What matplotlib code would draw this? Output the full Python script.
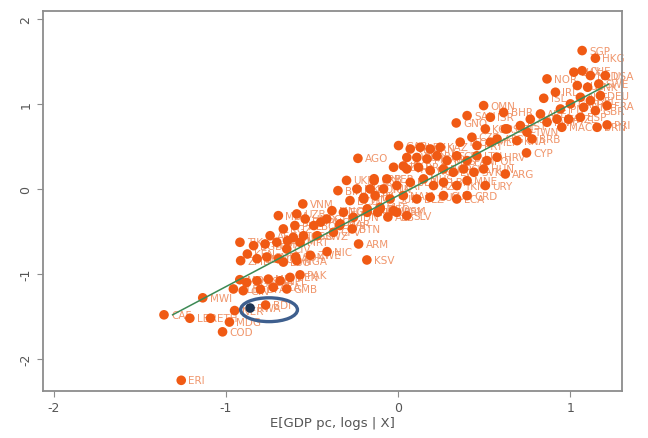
import matplotlib.pyplot as plt
from matplotlib.patches import Ellipse

plt.rcParams['axes.unicode_minus'] = False

countries = [
    'CAF', 'LBR', 'ETH', 'MDG', 'COD', 'ERI', 'MWI', 'NER', 'RWA', 'BDI',
    'MOZ', 'TGO', 'SLE', 'GIN', 'UGA', 'BFA', 'MLI', 'TZA', 'NPL', 'GMB',
    'BEN', 'PAK', 'ZMB', 'KEN', 'TJK', 'BGD', 'SEN', 'KHM', 'CMR', 'GHA',
    'LAO', 'KGZ', 'CIV', 'MDA', 'IND', 'NGA', 'UZB', 'SDN', 'ZWE', 'NIC',
    'YEM', 'MRT', 'LSO', 'VNM', 'PHL', 'HND', 'BOL', 'GTM', 'MNG', 'EGY',
    'MAR', 'IDN', 'LKA', 'GEO', 'PRY', 'SWZ', 'CGO', 'AFG', 'ARM', 'KSV',
    'PNG', 'SYR', 'BTN', 'JOR', 'ALB', 'CPV', 'AGO', 'GAB', 'BWA', 'IRQ',
    'UKR', 'BIH', 'MKD', 'SRB', 'ECU', 'CHN', 'OMN', 'SAU', 'GNQ', 'ISR',
    'KOR', 'BHR', 'SVN', 'CZE', 'TTO', 'PRT', 'MLT', 'VEN', 'LBY', 'IRN',
    'KAZ', 'TUR', 'MEX', 'RUS', 'MYS', 'CRI', 'PAN', 'LTU', 'POL', 'HRV',
    'DZA', 'THA', 'BRA', 'ROU', 'BGR', 'LVA', 'CHL', 'SVK', 'HUN', 'ARG',
    'URY', 'CYP', 'COL', 'PER', 'DOM', 'TUN', 'ZAF', 'BLR', 'MUS', 'AZE',
    'LBN', 'TKM', 'MNE', 'JAM', 'FJI', 'SUR', 'NAM', 'BLZ', 'GUY', 'CUB',
    'LCA', 'GRD', 'SLB', 'VUT', 'WSM', 'SLV', 'SGP', 'HKG', 'LUX', 'CHE',
    'NLD', 'USA', 'NOR', 'IRL', 'ISL', 'AUS', 'DNK', 'SWE', 'AUT', 'BEL',
    'DEU', 'CAN', 'FIN', 'GBR', 'FRA', 'JPN', 'ITA', 'NZL', 'ESP', 'ARE',
    'KWT', 'QAT', 'GRC', 'EST', 'TWN', 'MAC', 'BRN', 'PRI', 'ATG', 'KNA',
    'BRB',
]
gdp_fit = [
    -1.36, -1.21, -1.09, -0.98, -1.02, -1.26, -1.135, -0.95, -0.86, -0.77,
    -0.92, -0.88, -0.957, -0.90, -0.82, -0.80, -0.754, -0.725, -0.686, -0.647,
    -0.628, -0.57, -0.915, -0.876, -0.919, -0.84, -0.82, -0.773, -0.763, -0.696,
    -0.705, -0.667, -0.647, -0.696, -0.609, -0.589, -0.589, -0.595, -0.51, -0.413,
    -0.643, -0.57, -0.667, -0.554, -0.60, -0.54, -0.49, -0.415, -0.385, -0.318,
    -0.337, -0.26, -0.18, -0.105, -0.008, -0.47, -0.55, -0.744, -0.23, -0.182,
    -0.45, -0.34, -0.267, -0.12, -0.06, -0.376, -0.234, 0.002, 0.05, 0.03,
    -0.30, -0.35, -0.24, -0.14, -0.28, -0.20, 0.496, 0.40, 0.337, 0.535,
    0.506, 0.612, 0.622, 0.428, 0.36, 0.457, 0.535, 0.07, 0.128, 0.186,
    0.244, 0.108, 0.167, 0.225, 0.283, 0.34, 0.40, 0.457, 0.515, 0.574,
    -0.027, 0.05, 0.118, 0.186, 0.263, 0.32, 0.38, 0.44, 0.496, 0.622,
    0.506, 0.745, -0.14, -0.066, -0.163, -0.085, -0.008, 0.07, 0.147, 0.205,
    0.263, 0.34, 0.40, -0.20, -0.134, -0.047, 0.03, 0.108, 0.186, 0.263,
    0.34, 0.40, -0.18, -0.105, -0.027, 0.05, 1.068, 1.145, 1.02, 1.068,
    1.116, 1.203, 0.864, 0.913, 0.845, 1.04, 1.10, 1.165, 1.058, 1.116,
    1.174, 1.0, 1.077, 1.145, 1.213, 0.942, 0.922, 0.99, 1.058, 0.826,
    0.864, 0.767, 0.632, 0.709, 0.748, 0.95, 1.155, 1.213, 0.574, 0.69,
    0.777,
]
gdp_actual = [
    -1.48, -1.52, -1.52, -1.565, -1.68, -2.25, -1.28, -1.43, -1.40, -1.365,
    -1.067, -1.10, -1.176, -1.196, -1.08, -1.18, -1.06, -1.157, -1.08, -1.176,
    -1.04, -1.01, -0.843, -0.765, -0.627, -0.667, -0.82, -0.647, -0.80, -0.82,
    -0.627, -0.47, -0.706, -0.314, -0.57, -0.843, -0.294, -0.80, -0.78, -0.737,
    -0.608, -0.627, -0.86, -0.176, -0.43, -0.353, -0.43, -0.353, -0.255, -0.275,
    -0.41, -0.333, -0.275, -0.235, -0.275, -0.55, -0.55, -0.55, -0.647, -0.835,
    -0.39, -0.43, -0.47, -0.275, -0.33, -0.51, 0.36, 0.51, 0.37, 0.27,
    0.10, -0.02, 0.0, 0.12, -0.137, -0.10, 0.98, 0.862, 0.776, 0.843,
    0.706, 0.90, 0.706, 0.608, 0.55, 0.51, 0.55, 0.47, 0.49, 0.47,
    0.49, 0.37, 0.353, 0.39, 0.333, 0.39, 0.333, 0.39, 0.333, 0.373,
    0.255, 0.235, 0.255, 0.216, 0.235, 0.196, 0.235, 0.196, 0.235, 0.176,
    0.04, 0.424, 0.098, 0.118, 0.0, 0.0, 0.04, 0.078, 0.118, 0.04,
    0.078, 0.04, 0.098, -0.118, -0.078, -0.118, -0.078, -0.118, -0.098, -0.078,
    -0.118, -0.078, -0.235, -0.216, -0.255, -0.314, 1.627, 1.537, 1.373, 1.39,
    1.333, 1.333, 1.294, 1.137, 1.066, 1.216, 1.196, 1.235, 1.078, 1.039,
    1.098, 1.0, 0.96, 0.92, 0.98, 0.94, 0.82, 0.82, 0.843, 0.882,
    0.784, 0.82, 0.706, 0.745, 0.667, 0.725, 0.725, 0.753, 0.588, 0.568,
    0.588,
]
highlight = 'RWA'

# fitted line end points
fit_x = [-1.31, 1.22]
fit_y = [-1.48, 1.23]

point_col = '#F05A14'
label_col = '#F0966C'
axis_col = '#8C8C8C'

fig = plt.figure(figsize=(6.48, 4.39), dpi=100)
ax = fig.add_axes([0.066, 0.107, 0.894, 0.866])

for name, x, y in zip(countries, gdp_fit, gdp_actual):
    ax.annotate(name, (x, y), xytext=(5, 0), textcoords='offset points',
                va='center', ha='left', fontsize=7.5, color=label_col, zorder=2)

cols = ['#1F3552' if c == highlight else point_col for c in countries]
ax.scatter(gdp_fit, gdp_actual, s=48, c=cols, edgecolors='none', zorder=3)
ax.plot(fit_x, fit_y, color='#3C8A55', lw=1.1, zorder=4)

i = countries.index(highlight)
ax.add_patch(Ellipse((gdp_fit[i] + 0.11, gdp_actual[i] - 0.02), 0.33, 0.28,
                     fill=False, ec='#3E5F8E', lw=2.4, zorder=5))

ax.set_xlim(-2.064, 1.30)
ax.set_ylim(-2.376, 2.094)
ax.set_xticks([-2, -1, 0, 1])
ax.set_yticks([-2, -1, 0, 1, 2])
ax.tick_params(colors=axis_col, labelcolor='#555555', labelsize=9, length=4)
for lab in ax.get_yticklabels():
    lab.set_rotation(90)
    lab.set_va('center')
for sp in ax.spines.values():
    sp.set_color(axis_col)
    sp.set_linewidth(1.3)
ax.set_xlabel('E[GDP pc, logs | X]', fontsize=9.5, color='#555555', labelpad=1)

fig.savefig('out.png', dpi=100)
